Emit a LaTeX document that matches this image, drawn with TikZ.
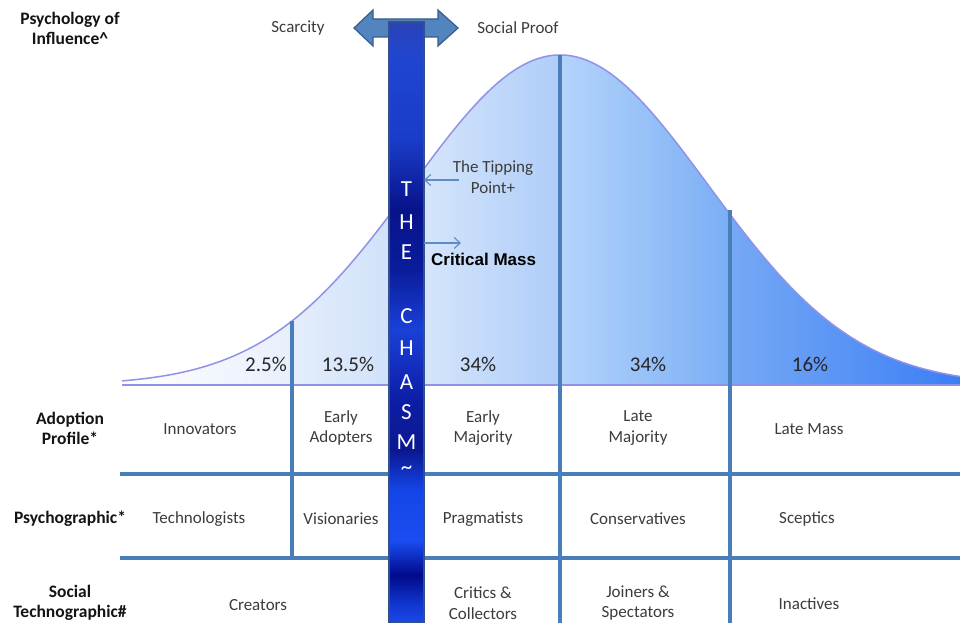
\documentclass[tikz,border=0pt]{standalone}
\usepackage{fontspec}
\setmainfont{Carlito}
\newfontfamily\arialfont{Liberation Sans}
\usetikzlibrary{arrows.meta}

% palette
\definecolor{segAl}{HTML}{FFFFFF}
\definecolor{segAr}{HTML}{E8EFFC}
\definecolor{segBl}{HTML}{E4EDFB}
\definecolor{segBr}{HTML}{D0E2FA}
\definecolor{segCl}{HTML}{DFEBFC}
\definecolor{segCr}{HTML}{AECDF8}
\definecolor{segDl}{HTML}{B5D4FB}
\definecolor{segDr}{HTML}{7AAEF5}
\definecolor{segEl}{HTML}{76A9F5}
\definecolor{segEr}{HTML}{3B7EF5}
\definecolor{curveline}{HTML}{9092E6}
\definecolor{gridblue}{HTML}{4A7EBB}
\definecolor{arrowfill}{HTML}{5284C0}
\definecolor{arrowedge}{HTML}{385D8A}
\definecolor{baredge}{HTML}{34508A}
\definecolor{cellgrey}{HTML}{3C3C3C}
\definecolor{labelblack}{HTML}{141414}
\definecolor{pctgrey}{HTML}{262626}
\definecolor{pointerblue}{HTML}{5B8CC8}

% chasm bar colours, listed from the bottom of the bar upwards
\definecolor{cb01}{HTML}{1A48E8}
\definecolor{cb02}{HTML}{1238D0}
\definecolor{cb03}{HTML}{000A8C}
\definecolor{cb04}{HTML}{1A4EF2}
\definecolor{cb05}{HTML}{1445E6}
\definecolor{cb06}{HTML}{0A1890}
\definecolor{cb07}{HTML}{0C1EA6}
\definecolor{cb08}{HTML}{1A40D8}
\definecolor{cb09}{HTML}{0A1C9C}
\definecolor{cb10}{HTML}{07138A}
\definecolor{cb11}{HTML}{1A3CC8}
\definecolor{cb12}{HTML}{1F45D0}
\definecolor{cb13}{HTML}{2A44B8}
\pgfdeclareverticalshading{chasmshade}{100bp}{%
  color(0bp)=(cb01); color(25bp)=(cb01); color(26.5bp)=(cb02);
  color(29bp)=(cb03); color(31.9bp)=(cb04); color(36.1bp)=(cb05);
  color(39.4bp)=(cb06); color(43.6bp)=(cb07); color(49.4bp)=(cb08);
  color(54.4bp)=(cb09); color(59.4bp)=(cb10); color(65.2bp)=(cb11);
  color(71.8bp)=(cb12); color(75bp)=(cb13); color(100bp)=(cb13)}

\begin{document}
\begin{tikzpicture}[x=1pt,y=-1pt,
  curve/.style={draw=curveline,line width=1.5pt},
  gridline/.style={draw=gridblue,line width=3.5pt},
  bararrow/.style={fill=arrowfill,draw=arrowedge,line width=1.2pt,line join=miter},
  chasmbar/.style={draw=baredge,line width=1.5pt,shading=chasmshade,
    minimum width=35pt,minimum height=601pt,inner sep=0pt,outer sep=0pt},
  chasmletter/.style={text=white,font=\fontsize{23}{26}\selectfont,inner sep=0pt},
  cell/.style={text=cellgrey,font=\fontsize{17}{20.5}\selectfont,align=center,inner sep=0pt},
  rowlabel/.style={text=labelblack,font=\bfseries\fontsize{17.5}{20}\selectfont,align=center,inner sep=0pt},
  pct/.style={text=pctgrey,font=\fontsize{21}{24}\selectfont,inner sep=0pt},
  pointer/.style={draw=pointerblue,line width=1.1pt,-{Straight Barb[length=6pt,width=11pt]}},
  keynote/.style={text=black,font=\arialfont\bfseries\fontsize{17}{20}\selectfont,inner sep=0pt}
]
\useasboundingbox (0,0) rectangle (960,623);
\fill[white] (0,0) rectangle (960,623);

% adoption bell curve, each band with its own left-to-right shading
\begin{scope}
  \clip plot[domain=122:960,samples=200]
    (\x,{385-330*exp(-0.5*((\x-560)/148)*((\x-560)/148))}) -- (960,385) -- (122,385) -- cycle;
  \shade[left color=segAl,right color=segAr] (122,40) rectangle (292,386);
  \shade[left color=segBl,right color=segBr] (292,40) rectangle (389,386);
  \shade[left color=segCl,right color=segCr] (389,40) rectangle (560,386);
  \shade[left color=segDl,right color=segDr] (560,40) rectangle (730,386);
  \shade[left color=segEl,right color=segEr] (730,40) rectangle (961,386);
\end{scope}
\draw[curve] plot[domain=122:960,samples=200]
  (\x,{385-330*exp(-0.5*((\x-560)/148)*((\x-560)/148))});
\draw[curve] (122,385) -- (960,385);

% table grid
\draw[gridline] (292,321) -- (292,558);
\draw[gridline] (560,55) -- (560,623);
\draw[gridline] (730,210) -- (730,623);
\draw[gridline] (120,474) -- (960,474);
\draw[gridline] (120,558) -- (960,558);

% two-way arrow at the top of the chasm
\draw[bararrow] (354,28) -- (373,10) -- (373,19) -- (438,19) -- (438,10) -- (458,28)
  -- (438,46) -- (438,37) -- (373,37) -- (373,46) -- cycle;

% the chasm bar and its lettering
\node[chasmbar] (chasm) at (406.5,322.5) {};
\foreach \ch/\yy [count=\i] in {T/189,H/222,E/252,C/316,H/348,A/382,S/412,M/442,\textasciitilde/470}
  \node[chasmletter] (letter\i) at (406.5,\yy) {\ch};

% influence labels
\node[rowlabel] (psych) at (70,28) {Psychology of\\Influence\textasciicircum};
\node[cell] (scarcity) at (298,28) {Scarcity};
\node[cell] (proof) at (518,28) {Social Proof};

% tipping point and critical mass
\node[cell] (tipping) at (493,177) {The Tipping\\Point+};
\coordinate (tipfrom) at (459,180);
\draw[pointer] (tipfrom) -- (chasm.east |- tipfrom);
\coordinate (massto) at (461,243);
\draw[pointer] (chasm.east |- massto) -- (massto);
\node[keynote,anchor=west] (mass) at (431,259) {Critical Mass};

% share of adopters per band
\node[pct] (p1) at (266,364) {2.5\%};
\node[pct] (p2) at (348,364) {13.5\%};
\node[pct] (p3) at (478,364) {34\%};
\node[pct] (p4) at (648,364) {34\%};
\node[pct] (p5) at (810,364) {16\%};

% row headings
\node[rowlabel] (rowA) at (70,428) {Adoption\\Profile*};
\node[rowlabel] (rowB) at (70,519) {Psychographic*};
\node[rowlabel] (rowC) at (70,603) {Social\\Technographic\#};

% adoption profile row
\node[cell] (a1) at (200,429) {Innovators};
\node[cell] (a2) at (341,428) {Early\\Adopters};
\node[cell] (a3) at (483,428) {Early\\Majority};
\node[cell] (a4) at (638,428) {Late\\Majority};
\node[cell] (a5) at (809,429) {Late Mass};

% psychographic row
\node[cell] (b1) at (199,519) {Technologists};
\node[cell] (b2) at (341,519) {Visionaries};
\node[cell] (b3) at (483,519) {Pragmatists};
\node[cell] (b4) at (638,519) {Conservatives};
\node[cell] (b5) at (807,519) {Sceptics};

% social technographic row
\node[cell] (c1) at (258,605) {Creators};
\node[cell] (c3) at (483,603) {Critics \&\\Collectors};
\node[cell] (c4) at (638,603) {Joiners \&\\Spectators};
\node[cell] (c5) at (809,604) {Inactives};
\end{tikzpicture}
\end{document}
